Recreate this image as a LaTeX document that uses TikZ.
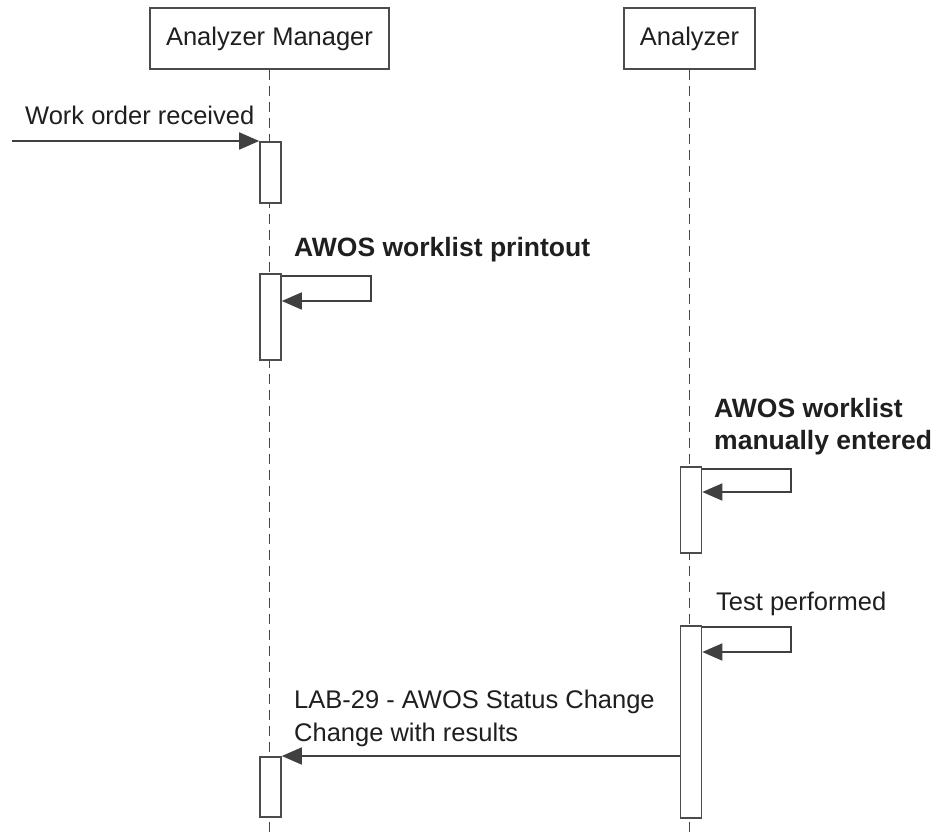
\documentclass[tikz,border=0pt]{standalone}
\usepackage{fontspec}
\setmainfont{Liberation Sans}
\usetikzlibrary{arrows.meta}
\begin{document}
\begin{tikzpicture}[x=1pt,y=-1pt,
  every node/.style={font=\fontsize{25.5}{31}\selectfont, text=black!88},
  hdr/.style={draw=black!70, line width=1.6pt, fill=white, minimum height=61pt, inner sep=0pt, anchor=center},
  act/.style={draw=black!70, line width=1.6pt, fill=white, minimum width=21pt, inner sep=0pt, anchor=north},
  life/.style={draw=black!72, line width=1.7pt, dash pattern=on 10pt off 6pt},
  msg/.style={draw=black!75, line width=1.7pt, -{Triangle[length=20pt,width=17pt]}},
  lbl/.style={anchor=base west, inner sep=0pt},
  blbl/.style={lbl, font=\fontsize{26.5}{33}\selectfont\bfseries}]
\useasboundingbox[fill=white] (0,0) rectangle (942,834);
% headers
\node[hdr, minimum width=239pt] (am) at (269.5,38.5) {Analyzer Manager};
\node[hdr, minimum width=131pt] (an) at (689.5,38.5) {Analyzer};
% lifelines
\coordinate (amend) at (269.5,834);
\coordinate (anend) at (689.5,834);
\draw[life] (am.south) -- (amend);
\draw[life] (an.south) -- (anend);
% activations
\node[act, minimum height=61pt] (a1) at (270.5,141) {};
\node[act, minimum height=86pt] (a2) at (270.5,273) {};
\node[act, minimum height=86pt] (b1) at (691,466) {};
\node[act, minimum height=192pt] (b2) at (691,625) {};
\node[act, minimum height=60pt] (a3) at (270.5,756) {};
% found message
\coordinate (src) at (12,141);
\draw[msg] (src) -- (a1.north west);
\node[lbl] (l1) at (25,125) {Work order received};
% self message on manager
\coordinate (s1a) at (371,276);
\coordinate (s1b) at (371,301);
\draw[msg] (a2.east |- s1a) -- (s1a) -- (s1b) -- (a2.east |- s1b);
\node[blbl] (l2) at (294,257) {AWOS worklist printout};
% self message on analyzer 1
\coordinate (s2a) at (791,469);
\coordinate (s2b) at (791,492);
\draw[msg] (b1.east |- s2a) -- (s2a) -- (s2b) -- (b1.east |- s2b);
\node[blbl] (l3a) at (714,417) {AWOS worklist};
\node[blbl] (l3b) at (714,449) {manually entered};
% self message on analyzer 2
\coordinate (s3a) at (791,627);
\coordinate (s3b) at (791,652);
\draw[msg] (b2.east |- s3a) -- (s3a) -- (s3b) -- (b2.east |- s3b);
\node[lbl] (l4) at (716,610) {Test performed};
% return message
\draw[msg] (b2.west |- a3.north) -- (a3.north east);
\node[lbl] (l5a) at (294,708) {LAB-29 - AWOS Status Change};
\node[lbl] (l5b) at (294,741) {Change with results};
\end{tikzpicture}
\end{document}
